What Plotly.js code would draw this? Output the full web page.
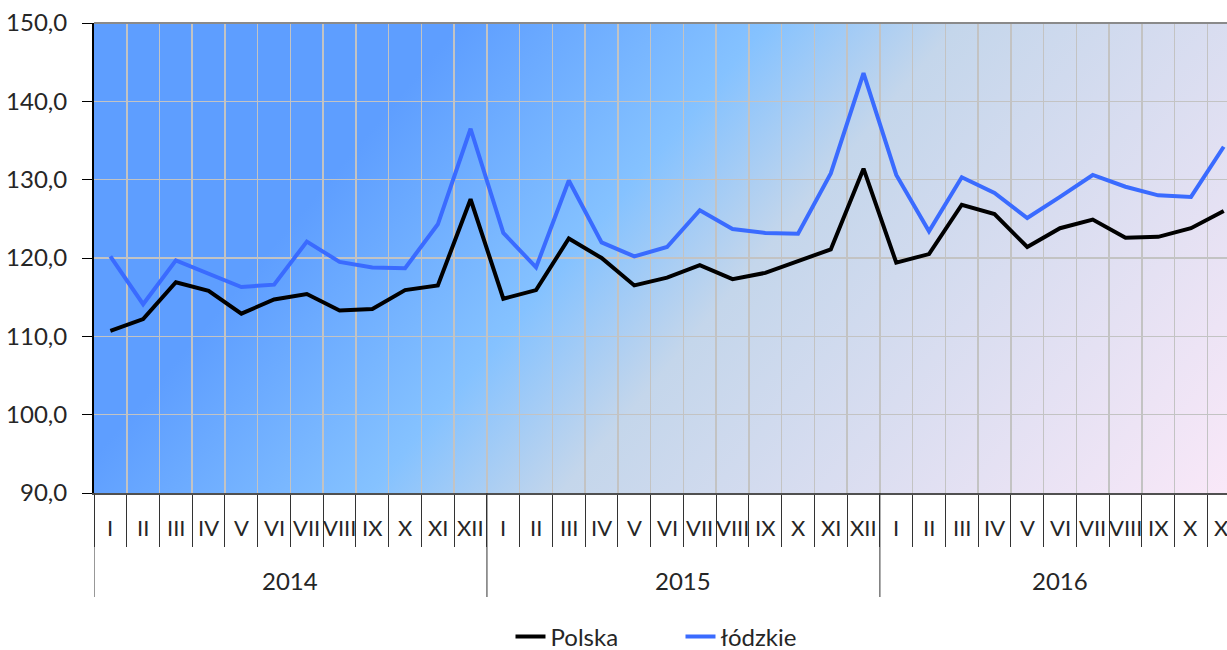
<!DOCTYPE html>
<html>
<head>
<meta charset="utf-8">
<script src="https://cdn.plot.ly/plotly-3.0.1.min.js"></script>
<style>
html,body{margin:0;padding:0;overflow:hidden;background:#fff;}
#chart{width:1227px;height:650px;}
</style>
</head>
<body>
<div id="chart"></div>
<script>
// ---- data ----
const years = ["2014", "2015", "2016"];
const months = ["I","II","III","IV","V","VI","VII","VIII","IX","X","XI","XII"];
const monthsPerYear = [12, 12, 11];
const polska = [
  110.7, 112.2, 116.9, 115.8, 112.9, 114.7, 115.4, 113.3, 113.5, 115.9, 116.5, 127.5,
  114.8, 115.9, 122.5, 120.0, 116.5, 117.5, 119.1, 117.3, 118.1, 119.6, 121.1, 131.4,
  119.4, 120.5, 126.8, 125.6, 121.4, 123.8, 124.9, 122.6, 122.7, 123.8, 126.0
];
const lodzkie = [
  120.2, 114.1, 119.7, 118.0, 116.3, 116.6, 122.1, 119.5, 118.8, 118.7, 124.3, 136.5,
  123.2, 118.8, 129.9, 122.0, 120.2, 121.4, 126.1, 123.7, 123.2, 123.1, 130.8, 143.6,
  130.6, 123.4, 130.3, 128.3, 125.1, 127.8, 130.6, 129.1, 128.0, 127.8, 134.2
];
const seriesNames = ["Polska", "łódzkie"];
const seriesColors = ["#000000", "#3a6bff"];

// ---- build categories ----
const monthLabels = [];
monthsPerYear.forEach((n) => {
  for (let m = 0; m < n; m++) monthLabels.push(months[m]);
});
const xIdx = monthLabels.map((_, i) => i);
const boundaries = [];
for (let i = 0; i <= xIdx.length; i++) boundaries.push(i - 0.5);

const FONT = "Lato, 'Open Sans', sans-serif";
const TXT = "#262626";
const plotH = 470;

const annotations = [];
monthLabels.forEach((lab, i) => {
  annotations.push({
    x: i, xref: "x", y: 0, yref: "paper", yshift: -34, yanchor: "middle",
    text: lab, showarrow: false, font: {family: FONT, size: 22, color: TXT}
  });
});
const shapes = [];
let start = 0;
monthsPerYear.forEach((n, yi) => {
  annotations.push({
    x: start + (n - 1) / 2, xref: "x", y: 0, yref: "paper", yshift: -87, yanchor: "middle",
    text: years[yi], showarrow: false, font: {family: FONT, size: 24, color: TXT}
  });
  shapes.push({type: "line", xref: "x", yref: "paper", x0: start - 0.5, x1: start - 0.5,
    y0: 0, y1: -104 / plotH, line: {color: "#333", width: 1}});
  start += n;
});
shapes.push({type: "line", xref: "paper", yref: "paper", x0: 0, x1: 1, y0: 1, y1: 1,
  line: {color: "#8a8a8a", width: 2}});

// gradient background (Excel "Daybreak"-like)
const W = 1133, H = 470;
const svg = `<svg xmlns="http://www.w3.org/2000/svg" width="${W}" height="${H}" viewBox="0 0 ${W} ${H}" preserveAspectRatio="none">
<defs><linearGradient id="g" gradientUnits="userSpaceOnUse" x1="0" y1="0" x2="892.6" y2="754.3">
<stop offset="0.24" stop-color="#5E9EFF"/><stop offset="0.44" stop-color="#85C2FF"/>
<stop offset="0.565" stop-color="#C4D6EB"/><stop offset="1" stop-color="#F9E8F8"/>
</linearGradient></defs><rect width="${W}" height="${H}" fill="url(#g)"/></svg>`;
const bgImg = "data:image/svg+xml;base64," + btoa(svg);

const traces = [polska, lodzkie].map((vals, k) => ({
  type: "scatter", mode: "lines", x: xIdx, y: vals, name: seriesNames[k],
  line: {color: seriesColors[k], width: 4}, hoverinfo: "skip"
}));

const layout = {
  width: 1227, height: 650,
  margin: {l: 94, r: 0, t: 23, b: 157, pad: 0, autoexpand: false},
  paper_bgcolor: "#ffffff", plot_bgcolor: "rgba(0,0,0,0)",
  separators: ",.",
  font: {family: FONT, color: TXT},
  images: [{source: bgImg, xref: "paper", yref: "paper", x: 0, y: 1, sizex: 1, sizey: 1,
    sizing: "stretch", xanchor: "left", yanchor: "top", layer: "below"}],
  xaxis: {
    type: "linear", range: [-0.5, 34.1], tickmode: "array", tickvals: boundaries,
    showticklabels: false, ticks: "outside", ticklen: 52, tickcolor: "#333", tickwidth: 1,
    showgrid: true, gridcolor: "#c3c3c3", gridwidth: 1.5,
    showline: true, linecolor: "#505050", linewidth: 2, zeroline: false, fixedrange: true
  },
  yaxis: {
    range: [90, 150], dtick: 10, tick0: 90, tickformat: ".1f",
    ticks: "outside", ticklen: 10, tickcolor: "#000", tickwidth: 1, ticklabelstandoff: 10,
    showgrid: true, gridcolor: "#c3c3c3", gridwidth: 1.5,
    showline: true, linecolor: "#000", linewidth: 2, zeroline: false,
    tickfont: {family: FONT, size: 24, color: TXT}, fixedrange: true
  },
  showlegend: true,
  legend: {orientation: "h", x: 0.5546, xanchor: "center", xref: "container",
    yref: "container", y: 13 / 650, yanchor: "middle",
    font: {family: FONT, size: 24, color: TXT}, entrywidth: 125, entrywidthmode: "pixels",
    bgcolor: "rgba(0,0,0,0)", tracegroupgap: 0},
  annotations: annotations,
  shapes: shapes
};

Plotly.newPlot("chart", traces, layout, {displayModeBar: false, staticPlot: true});
</script>
</body>
</html>
